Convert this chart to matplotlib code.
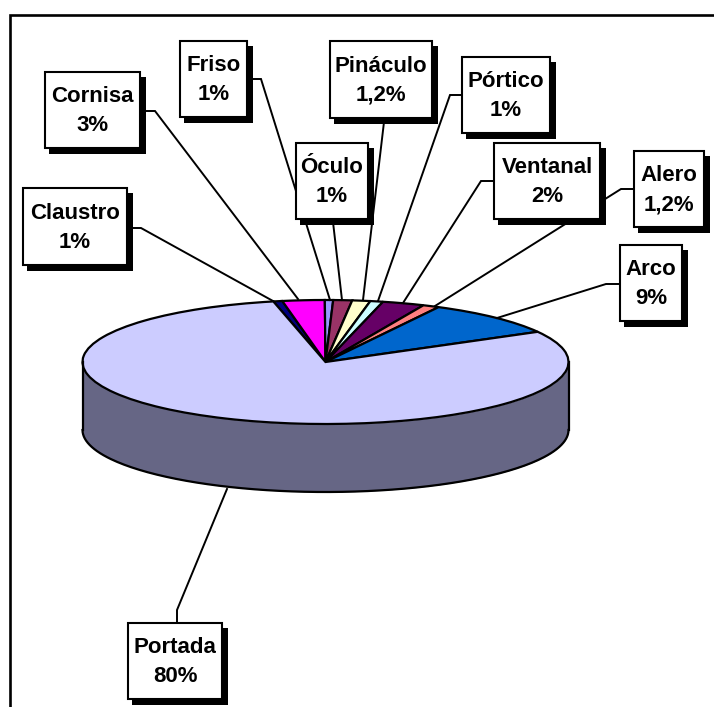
import numpy as np
import matplotlib
matplotlib.use("Agg")
import matplotlib.pyplot as plt
from matplotlib.patches import Rectangle

plt.rcParams['font.family'] = ['Liberation Sans', 'DejaVu Sans']

# Data (clockwise order, from the top-left of the pie)
categories = ['Claustro', 'Cornisa', 'Friso', 'Óculo', 'Pináculo', 'Pórtico',
              'Ventanal', 'Alero', 'Arco', 'Portada']
value_labels = ['1%', '3%', '1%', '1%', '1,2%', '1%', '2%', '1,2%', '9%', '80%']
drawn_values = [0.6, 2.8, 0.55, 1.25, 1.2, 0.85, 2.8, 1.1, 9.2, 79.65]
slice_colors = ['#000080', '#FF00FF', '#9999FF', '#993366', '#FFFFCC', '#CCFFFF',
                '#660066', '#FF8080', '#0066CC', '#CCCCFF']
side_color = '#666685'

# Layout, in figure pixels
W, H = 714, 707
pie_cx, pie_cy, pie_rx, pie_ry, pie_depth = 325.5, 362, 243, 62, 68
start_angle = 102.4
box_extents = {
    'Claustro': (23, 188, 127, 265), 'Cornisa': (45, 72, 140, 148),
    'Friso': (180, 41, 247, 117), 'Óculo': (296, 143, 368, 219),
    'Pináculo': (330, 41, 432, 118), 'Pórtico': (462, 57, 550, 133),
    'Ventanal': (494, 143, 600, 219), 'Alero': (634, 151, 704, 227),
    'Arco': (620, 245, 682, 321), 'Portada': (128, 623, 222, 699),
}
leaders = {
    'Claustro': [(133, 228), (141, 228), (273, 301)],
    'Cornisa': [(146, 111), (155, 111), (298, 299)],
    'Friso': [(253, 79), (261, 79), (330, 300)],
    'Óculo': [(333, 222), (342, 300)],
    'Pináculo': [(384, 122), (363, 300)],
    'Pórtico': [(462, 95), (450, 95), (378, 301)],
    'Ventanal': [(494, 181), (481, 181), (403, 303)],
    'Alero': [(634, 189), (621, 189), (435, 306)],
    'Arco': [(620, 284), (606, 284), (497, 318)],
    'Portada': [(177, 623), (177, 610), (227, 489)],
}

fig = plt.figure(figsize=(W / 100, H / 100), dpi=100)
fig.patch.set_facecolor('white')

# Overlay in pixel coordinates for frame, leaders and label boxes
over = fig.add_axes([0, 0, 1, 1], zorder=1)
over.set_xlim(0, W)
over.set_ylim(H, 0)
over.axis('off')
over.plot([10, 10, W], [H, 15, 15], color='black', lw=1.9, solid_joinstyle='miter')

# The pie: a unit circle squashed by the axes box into an ellipse
pie_ax = fig.add_axes([(pie_cx - pie_rx) / W, 1 - (pie_cy + pie_ry) / H,
                       2 * pie_rx / W, 2 * pie_ry / H], zorder=2)
pie_ax.patch.set_visible(False)
t = np.radians(np.linspace(180, 360, 181))
dy = pie_depth / pie_ry
pie_ax.fill_between(np.cos(t), np.sin(t) - dy, np.sin(t), color=side_color, lw=0,
                    clip_on=False)
pie_ax.plot(np.cos(t), np.sin(t) - dy, color='black', lw=1.6, clip_on=False)
pie_ax.plot([-1, -1], [0, -dy], color='black', lw=1.6, clip_on=False)
pie_ax.plot([1, 1], [0, -dy], color='black', lw=1.6, clip_on=False)
wedges, _ = pie_ax.pie(drawn_values, colors=slice_colors, startangle=start_angle,
                       counterclock=False, radius=1,
                       wedgeprops=dict(edgecolor='black', linewidth=1.6))
for w in wedges:
    w.set_clip_on(False)
pie_ax.set_aspect('auto')
pie_ax.set_xlim(-1, 1)
pie_ax.set_ylim(-1, 1)
pie_ax.axis('off')

# Leaders and boxes, above the pie
top = fig.add_axes([0, 0, 1, 1], zorder=3)
top.set_xlim(0, W)
top.set_ylim(H, 0)
top.axis('off')
for name in categories:
    xs, ys = zip(*leaders[name])
    top.plot(xs, ys, color='black', lw=1.4, zorder=1, solid_joinstyle='miter')
for name, label in zip(categories, value_labels):
    x0, y0, x1, y1 = box_extents[name]
    top.add_patch(Rectangle((x0 + 4, y0 + 5), x1 - x0 + 2, y1 - y0 + 1,
                            facecolor='black', edgecolor='black', lw=0, zorder=2))
    top.add_patch(Rectangle((x0, y0), x1 - x0, y1 - y0, facecolor='white',
                            edgecolor='black', lw=1.5, zorder=3))
    top.text((x0 + x1) / 2, (y0 + y1) / 2 + 1.2, f'{name}\n{label}', ha='center', va='center',
             fontsize=16, fontweight='bold', linespacing=1.52, zorder=4, color='black')

fig.savefig('out.png', dpi=100)
